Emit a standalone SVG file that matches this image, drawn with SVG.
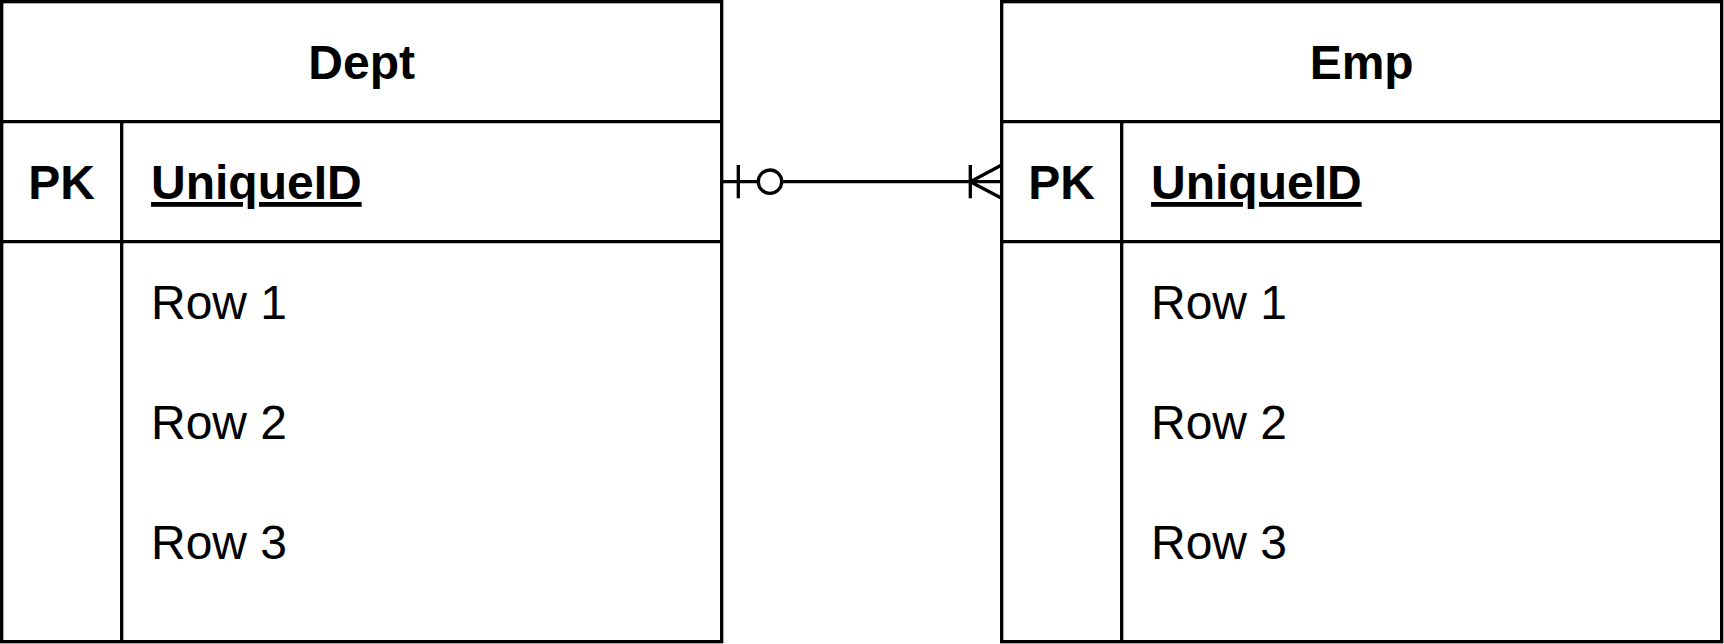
<svg xmlns="http://www.w3.org/2000/svg" width="1724" height="644" viewBox="0 0 1724 644">
<style>
.box{fill:#fff;stroke:#000;stroke-width:3.33}
.ln{fill:none;stroke:#000;stroke-width:3.33}
.t{font-family:"Liberation Sans",Arial,sans-serif;font-size:48px;fill:#000}
.b{font-weight:bold}
</style>
<rect width="1724" height="644" fill="#fff"/>
<g id="dept">
<rect class="box" x="1.67" y="1.67" width="720" height="640"/>
<line class="ln" x1="1.67" y1="121.67" x2="721.67" y2="121.67"/>
<line class="ln" x1="1.67" y1="241.67" x2="721.67" y2="241.67"/>
<line class="ln" x1="121.67" y1="121.67" x2="121.67" y2="641.67"/>
<text class="t b" x="361.67" y="79" text-anchor="middle">Dept</text>
<text class="t b" x="61.67" y="199" text-anchor="middle">PK</text>
<text class="t b" x="151" y="199" text-decoration="underline">UniqueID</text>
<text class="t" x="151" y="319">Row 1</text>
<text class="t" x="151" y="439">Row 2</text>
<text class="t" x="151" y="559">Row 3</text>
</g>
<g id="emp">
<rect class="box" x="1001.67" y="1.67" width="720" height="640"/>
<line class="ln" x1="1001.67" y1="121.67" x2="1721.67" y2="121.67"/>
<line class="ln" x1="1001.67" y1="241.67" x2="1721.67" y2="241.67"/>
<line class="ln" x1="1121.67" y1="121.67" x2="1121.67" y2="641.67"/>
<text class="t b" x="1361.67" y="79" text-anchor="middle">Emp</text>
<text class="t b" x="1061.67" y="199" text-anchor="middle">PK</text>
<text class="t b" x="1151" y="199" text-decoration="underline">UniqueID</text>
<text class="t" x="1151" y="319">Row 1</text>
<text class="t" x="1151" y="439">Row 2</text>
<text class="t" x="1151" y="559">Row 3</text>
</g>
<g id="connectors">
<line class="ln" x1="721.67" y1="181.67" x2="758.3" y2="181.67"/>
<line class="ln" x1="781.7" y1="181.67" x2="1001.67" y2="181.67"/>
<line class="ln" x1="738.3" y1="165" x2="738.3" y2="198.3"/>
<circle class="ln" cx="770" cy="181.67" r="11.7"/>
<line class="ln" x1="970.3" y1="165" x2="970.3" y2="198.3"/>
<polyline class="ln" points="1001.67,165 970.3,181.67 1001.67,198.3"/>
</g>
</svg>
